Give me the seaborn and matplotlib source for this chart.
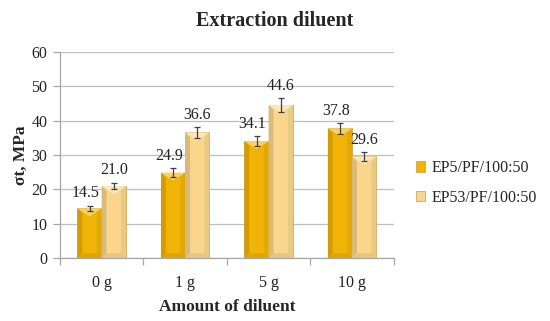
import matplotlib
matplotlib.use("Agg")
import matplotlib.pyplot as plt
from matplotlib.patches import Polygon, Patch
import seaborn as sns
import pandas as pd
import numpy as np

categories = ["0 g", "1 g", "5 g", "10 g"]
series_names = ["EP5/PF/100:50", "EP53/PF/100:50"]
ep5_values = [14.5, 24.9, 34.1, 37.8]
ep53_values = [21.0, 36.6, 44.6, 29.6]
ep5_errors = [0.8, 1.2, 1.5, 1.6]
ep53_errors = [1.0, 1.6, 2.0, 1.3]

colors = ["#F0B306", "#F9D68C"]

df = pd.DataFrame({
    "cat": categories * 2,
    "series": [series_names[0]] * 4 + [series_names[1]] * 4,
    "val": ep5_values + ep53_values,
    "err": ep5_errors + ep53_errors,
})

sns.set_theme(style="white")
plt.rcParams["font.family"] = ["Liberation Serif", "DejaVu Serif"]

fig = plt.figure(figsize=(5.5, 3.21), dpi=100)
ax = fig.add_axes([0.109, 0.196, 0.607, 0.642])

sns.barplot(data=df, x="cat", y="val", hue="series", order=categories,
            hue_order=series_names, palette=colors, width=0.58, saturation=1,
            errorbar=None, ax=ax, legend=False, zorder=2, linewidth=0.5,
            edgecolor="#C89A40")

def shade(c, f):
    c = np.array(matplotlib.colors.to_rgb(c))
    if f < 1:
        return tuple(c * f)
    return tuple(c + (1 - c) * (f - 1))

ax.set_ylim(0, 60)
ax.set_xlim(-0.5, 3.5)

px_per_x = ax.transData.transform((1, 0))[0] - ax.transData.transform((0, 0))[0]
px_per_y = ax.transData.transform((0, 1))[1] - ax.transData.transform((0, 0))[1]

for i, p in enumerate(list(ax.patches)[:8]):
    s = i // 4
    col = colors[s]
    x0, w, h = p.get_x(), p.get_width(), p.get_height()
    d = w * 0.2
    dy = d * px_per_x / px_per_y
    ax.add_patch(Polygon([(x0, 0), (x0 + d, dy), (x0 + d, h - dy), (x0, h)],
                         closed=True, facecolor=shade(col, 0.87), lw=0, zorder=2.1))
    ax.add_patch(Polygon([(x0 + w, 0), (x0 + w - d, dy), (x0 + w - d, h - dy), (x0 + w, h)],
                         closed=True, facecolor=shade(col, 0.94), lw=0, zorder=2.1))
    ax.add_patch(Polygon([(x0, 0), (x0 + w, 0), (x0 + w - d, dy), (x0 + d, dy)],
                         closed=True, facecolor=shade(col, 0.92), lw=0, zorder=2.1))
    ax.add_patch(Polygon([(x0, h), (x0 + w, h), (x0 + w / 2, h - 1.7 * dy)],
                         closed=True, facecolor=shade(col, 1.4), lw=0, zorder=2.2))
    xc = x0 + w / 2
    err = df["err"].iloc[i]
    ax.errorbar(xc, h, yerr=err, fmt="none", ecolor="#404040", elinewidth=0.9,
                capsize=2.5, capthick=0.9, zorder=3)
    ax.annotate(f"{h:.1f}", (xc, h + err), xytext=(-3 if s == 0 else 0, 3),
                textcoords="offset points", ha="center", va="bottom",
                fontsize=11.5, color="#222222", zorder=4)

ax.set_yticks(range(0, 61, 10))
ax.yaxis.grid(True, color="#BFBFBF", linewidth=0.9, zorder=0)
ax.set_axisbelow(True)
for sp in ["top", "right"]:
    ax.spines[sp].set_visible(False)
for sp in ["left", "bottom"]:
    ax.spines[sp].set_color("#A6A6A6")
    ax.spines[sp].set_linewidth(0.9)

ax.tick_params(axis="y", which="major", length=5, color="#A6A6A6", width=0.9,
               labelsize=11.5, pad=4, left=True, labelcolor="#222222")
ax.tick_params(axis="x", which="major", length=0, labelsize=11.5, pad=12,
               labelcolor="#222222")
ax.set_xticks(np.arange(-0.5, 4.0, 1.0), minor=True)
ax.tick_params(axis="x", which="minor", length=5, color="#A6A6A6", width=0.9,
               bottom=True)

ax.set_xlabel("Amount of diluent", fontsize=12.5, fontweight="bold", labelpad=6)
ax.set_ylabel("σt, MPa", fontsize=12.5, fontweight="bold", labelpad=2)
fig.suptitle("Extraction diluent", x=0.5, y=0.965, fontsize=14.5, fontweight="bold")

handles = [Patch(facecolor=c, edgecolor="#C89A40", linewidth=0.5) for c in colors]
fig.legend(handles, series_names, loc="center left", bbox_to_anchor=(0.73, 0.43),
           frameon=False, fontsize=11.5, handlelength=0.6, handleheight=0.6,
           handletextpad=0.4, labelspacing=0.85)

fig.savefig("out.png", dpi=100)
